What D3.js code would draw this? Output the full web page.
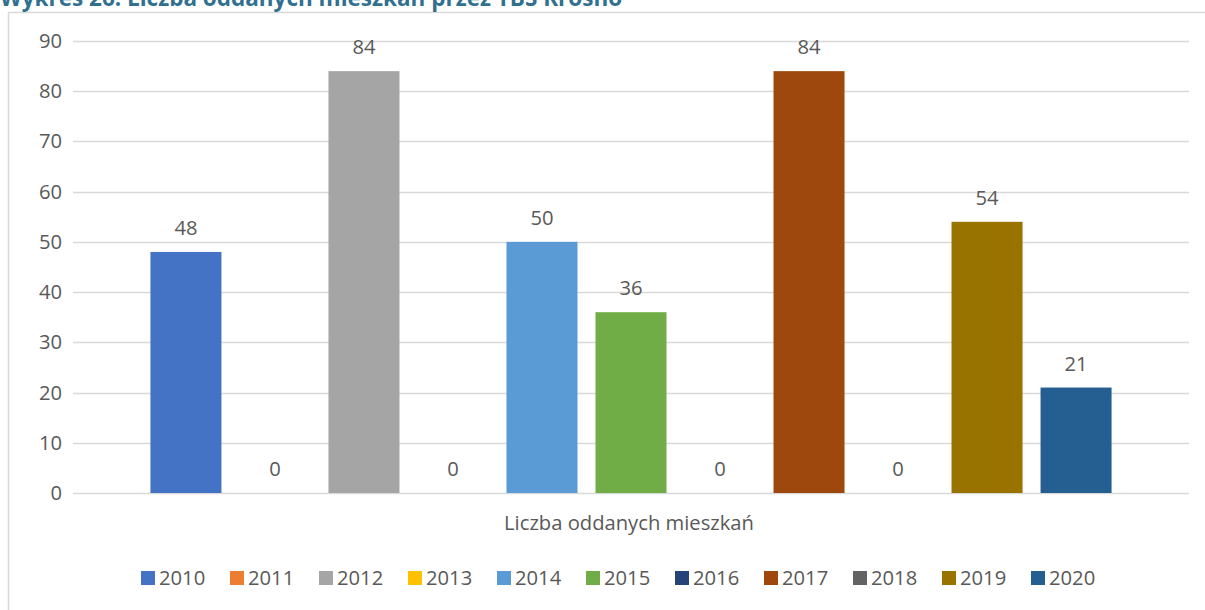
<!DOCTYPE html>
<html>
<head>
<meta charset="utf-8">
<script src="https://cdn.jsdelivr.net/npm/d3@7"></script>
<style>
  html, body { margin: 0; padding: 0; background: #fff; }
  svg { display: block; }
  text { font-family: "Open Sans", sans-serif; }
</style>
</head>
<body>
<svg id="chart" width="1205" height="610"></svg>
<script>
const title = "Wykres 26. Liczba oddanych mieszkań przez TBS Krosno";
const category = "Liczba oddanych mieszkań";
const years = ["2010","2011","2012","2013","2014","2015","2016","2017","2018","2019","2020"];
const values = [48, 0, 84, 0, 50, 36, 0, 84, 0, 54, 21];
const colors = ["#4472C4","#ED7D31","#A5A5A5","#FFC000","#5B9BD5","#70AD47","#264478","#9E480E","#636363","#997300","#255E91"];
const yTicks = [0,10,20,30,40,50,60,70,80,90];

(function () {
const svg = d3.select("#chart");
const textColor = "#595959";
const gridColor = "#D9D9D9";
const fs = 20.2;

// chart frame
svg.append("path")
  .attr("d", "M8.5,610 L8.5,12.5 L1205,12.5")
  .attr("fill", "none").attr("stroke", gridColor).attr("stroke-width", 1.5);

// title
svg.append("text")
  .attr("x", 0).attr("y", 6)
  .attr("fill", "#31708F")
  .attr("font-size", 22.5).attr("font-weight", "bold")
  .text(title);

const pLeft = 73, pRight = 1189, pTop = 41, pBottom = 493;
const y = d3.scaleLinear().domain([0, 90]).range([pBottom, pTop]);
const x = d3.scaleBand().domain(years).range([pLeft, pRight]).paddingInner(0.2022).paddingOuter(0.87);

// gridlines
svg.append("g").selectAll("line").data(yTicks).join("line")
  .attr("x1", pLeft).attr("x2", pRight)
  .attr("y1", d => Math.round(y(d)) + 0.5).attr("y2", d => Math.round(y(d)) + 0.5)
  .attr("stroke", gridColor).attr("stroke-width", 1.5);

// y axis labels
const yAxis = d3.axisLeft(y).tickValues(yTicks).tickSize(0).tickPadding(11);
const gy = svg.append("g").attr("transform", `translate(${pLeft},0)`).call(yAxis);
gy.select(".domain").remove();
gy.selectAll("text").attr("fill", textColor).attr("font-size", fs)
  .attr("font-family", "'Open Sans', sans-serif");

// bars
svg.append("g").selectAll("rect").data(years).join("rect")
  .attr("x", d => x(d))
  .attr("width", x.bandwidth())
  .attr("y", (d, i) => y(values[i]))
  .attr("height", (d, i) => y(0) - y(values[i]))
  .attr("fill", (d, i) => colors[i]);

// value labels
svg.append("g").selectAll("text").data(years).join("text")
  .attr("x", d => x(d) + x.bandwidth() / 2)
  .attr("y", (d, i) => y(values[i]) - 17)
  .attr("text-anchor", "middle")
  .attr("fill", textColor).attr("font-size", fs)
  .text((d, i) => values[i]);

// category label
svg.append("text")
  .attr("x", (pLeft + pRight) / 2 - 2).attr("y", 530)
  .attr("text-anchor", "middle")
  .attr("fill", textColor).attr("font-size", fs)
  .text(category);

// legend
const legStart = 141, legStep = 89;
const leg = svg.append("g").selectAll("g").data(years).join("g")
  .attr("transform", (d, i) => `translate(${legStart + i * legStep},0)`);
leg.append("rect").attr("x", 0).attr("y", 571).attr("width", 14).attr("height", 14)
  .attr("fill", (d, i) => colors[i]);
leg.append("text").attr("x", 18).attr("y", 585)
  .attr("fill", textColor).attr("font-size", fs)
  .text(d => d);
})();
</script>
</body>
</html>
